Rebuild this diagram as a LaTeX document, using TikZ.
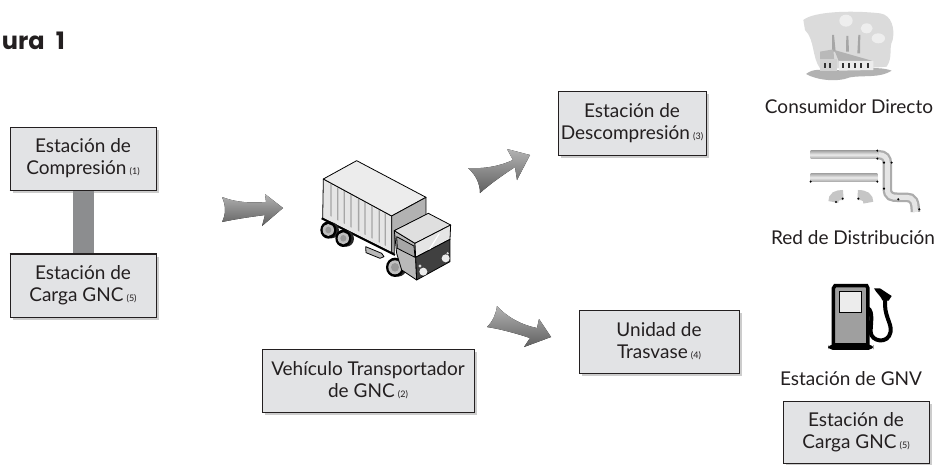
\documentclass[tikz,border=0pt]{standalone}
\usepackage{fontspec}
\setmainfont{Lato}
\newfontfamily\titlefont[WordSpace=2.2]{Poppins}
\usetikzlibrary{shadows,shadings}
\definecolor{boxfill}{HTML}{E2E3E5}
\definecolor{ink}{HTML}{231F20}
\definecolor{linkgray}{HTML}{8C8D8F}
\tikzset{
  box/.style={draw=ink,line width=1pt,fill=boxfill,align=center,text=ink,inner sep=0pt,
    font=\fontsize{19}{22}\selectfont,
    drop shadow={shadow xshift=2.5pt,shadow yshift=-2.5pt,fill=black,opacity=.2}},
  plain/.style={text=ink,inner sep=0pt,font=\fontsize{19}{22}\selectfont},
  blockarrow/.style={draw=none,top color=gray!60,middle color=gray!25,bottom color=gray!75!black},
  zoomA/.style={shift={(300,80)},x=.3333pt,y=-.3333pt},
  zoomB/.style={shift={(770,0)},x=.3333pt,y=-.3333pt},
  zoomC/.style={shift={(740,270)},x=.3333pt,y=-.3333pt},
  tk/.style={draw=black,line width=.8pt,line join=round},
}
\newcommand{\nm}[1]{\,{\fontsize{9}{10}\selectfont #1}}
\newcommand{\wheelat}[3]{%
  \fill[black!85] (#1+9,#2+1) circle[x radius=#3-1,y radius=#3];
  \fill[black] (#1,#2) circle[x radius=#3,y radius=#3+2];
  \fill[gray!50] (#1,#2) circle[x radius=#3-7,y radius=#3-6];
  \fill[gray!80] (#1,#2) circle[x radius=#3-15,y radius=#3-14];
}
\begin{document}
\begin{tikzpicture}[x=1pt,y=-1pt]
\useasboundingbox (0,0) rectangle (937,464);
\fill[white] (0,0) rectangle (937,464);
\node[anchor=base east,text=ink,inner sep=0pt,font=\fontsize{24}{28}\titlefont\bfseries] (title) at (65,49.5) {ura 1};

% boxes
\node[box,minimum width=146pt,minimum height=63pt] (comp) at (83,158.5) {Estación de\\Compresión\nm{(1)}};
\node[box,minimum width=146pt,minimum height=63pt] (carga) at (83,285.5) {Estación de\\Carga GNC\nm{(5)}};
\node[box,minimum width=148pt,minimum height=64pt] (desc) at (632,123) {Estación de\\Descompresión\nm{(3)}};
\node[box,minimum width=212pt,minimum height=63pt] (veh) at (368,380.5) {Vehículo Transportador\\de GNC\nm{(2)}};
\node[box,minimum width=160pt,minimum height=63pt] (tras) at (659,341.5) {Unidad de\\Trasvase\nm{(4)}};
\node[box,minimum width=146pt,minimum height=62pt] (carga2) at (856,432) {Estación de\\Carga GNC\nm{(5)}};
\draw[line width=21pt,color=linkgray] (comp.south) -- (carga.north);
\draw[draw=ink,line width=1pt] (comp.south west) -- (comp.south east) (carga.north west) -- (carga.north east);

% labels
\node[plain] (l1) at (849,107) {Consumidor Directo};
\node[plain] (l2) at (853,238) {Red de Distribución};
\node[plain] (l3) at (851,379) {Estación de GNV};

% arrows
\fill[blockarrow] (222,197) .. controls (238,203) and (252,203) .. (266,202) -- (265,194) -- (283,208) -- (262,226) -- (265,215) .. controls (250,217) and (236,219) .. (222,222) .. controls (226,214) and (226,206) .. (222,197) -- cycle;
\fill[blockarrow] (468,168) .. controls (485,169) and (500,166) .. (513,160) -- (507,149) -- (530,155) -- (517,180) -- (515,167) .. controls (503,175) and (490,184) .. (480,193) .. controls (480,184) and (476,175) .. (468,168) -- cycle;
\fill[blockarrow] (497,306) .. controls (508,318) and (522,325) .. (537,328) -- (539,319) -- (551,337) -- (524,347) -- (530,338) .. controls (515,333) and (500,329) .. (487,327) .. controls (493,321) and (496,314) .. (497,306) -- cycle;

% truck
\begin{scope}[zoomA]
  \fill[gray!20,tk] (70,297) -- (275,408) -- (275,518) -- (68,415) -- cycle;
  \foreach \a/\b in {95/310,115/322,135/332,155/343,178/355,197/365,218/376,240/388,258/398}{
    \fill[gray!70] (\a-4,\b) -- (\a,\b+2) -- (\a,\b+100) -- (\a-4,\b+98) -- cycle;
  }
  \fill[gray!15,tk] (70,297) -- (170,242) -- (378,352) -- (275,408) -- cycle;
  \fill[gray!60,tk] (275,408) -- (378,352) -- (378,405) -- (283,452) -- (283,520) -- (275,518) -- cycle;
  \draw[line width=2pt] (65,415) -- (285,525);
  \wheelat{85}{450}{24}
  \wheelat{130}{475}{24}
  \fill[gray!55,tk] (197,500) -- (245,520) -- (252,530) -- (240,535) -- (198,518) -- cycle;
  \wheelat{285}{562}{27}
  \fill[gray!55,tk] (283,452) -- (345,490) -- (350,600) -- (305,570) -- (290,520) -- cycle;
  \fill[gray!25,tk] (283,452) -- (385,400) -- (452,435) -- (345,490) -- cycle;
  \fill[gray!20,tk] (345,490) -- (452,435) -- (450,478) -- (347,532) -- cycle;
  \fill[black!75,tk] (347,532) -- (450,478) -- (450,545) -- (350,600) -- cycle;
  \fill[gray!70,tk] (290,470) -- (342,498) -- (345,532) -- (292,505) -- cycle;
  \fill[white] (385,510) -- (415,462) -- (420,460) -- (392,507) -- cycle;
  \fill[gray!15] (370,575) circle[radius=12];
  \fill[gray!15] (437,535) circle[radius=12];
  \fill[gray!30] (360,558) circle[radius=5];
  \fill[gray!30] (443,520) circle[radius=4];
\end{scope}

% factory
\begin{scope}[zoomB]
  \fill[gray!28] (100,60) .. controls (130,35) and (240,30) .. (330,40) .. controls (365,45) and (375,85) .. (368,120) .. controls (355,145) and (370,170) .. (350,200) .. controls (300,205) and (200,205) .. (150,205) .. controls (125,170) and (135,120) .. (105,90) -- cycle;
  \fill[gray!60] (108,222) .. controls (130,205) and (150,210) .. (190,210) .. controls (250,212) and (320,195) .. (365,212) .. controls (330,235) and (280,225) .. (240,232) .. controls (200,248) and (140,240) .. (108,222) -- cycle;
  \fill[white,opacity=.55] (228,62) circle[x radius=20,y radius=18];
  \fill[white,opacity=.55] (290,85) circle[x radius=18,y radius=15];
  \fill[white,opacity=.55] (325,115) circle[x radius=20,y radius=15];
  \fill[gray!70] (186,105) -- (192,105) -- (197,155) -- (186,155) -- cycle;
  \fill[gray!70] (229,108) -- (235,108) -- (237,155) -- (228,155) -- cycle;
  \fill[gray!70] (265,105) -- (271,105) -- (270,160) -- (262,160) -- cycle;
  \fill[gray!55] (150,155) -- (190,148) -- (195,210) -- (150,212) -- cycle;
  \fill[gray!35] (150,178) -- (200,178) -- (200,212) -- (150,212) -- cycle;
  \fill[gray!60] (193,150) -- (305,182) -- (305,185) -- (207,185) -- cycle;
  \fill[gray!15] (207,183) -- (310,183) -- (310,210) -- (207,212) -- cycle;
  \foreach \x in {165,180,218,236,255,273,293}{\fill[black!80] (\x-3,190) rectangle (\x+3,204);}
\end{scope}

% pipes
\begin{scope}[zoomB]
  \shade[top color=gray!70,bottom color=gray!70,middle color=gray!15] (122,452) rectangle (325,476);
  \shade[top color=gray!70,bottom color=gray!70,middle color=gray!15] (122,520) rectangle (322,545);
  \draw[line width=9.5pt,gray!65] (325,464) .. controls (345,464) and (352,475) .. (352,490) -- (352,565) .. controls (352,590) and (365,592) .. (385,592) -- (410,592) .. controls (430,592) and (436,605) .. (436,636);
  \draw[line width=5pt,gray!20] (325,464) .. controls (345,464) and (352,475) .. (352,490) -- (352,565) .. controls (352,590) and (365,592) .. (385,592) -- (410,592) .. controls (430,592) and (436,605) .. (436,636);
  \draw[line width=10pt,gray!45] (190,606) .. controls (190,590) and (200,585) .. (220,585);
  \draw[line width=10pt,gray!45] (263,585) .. controls (285,585) and (295,592) .. (295,608);
  \foreach \x/\y in {322/452,322/476,342/488,365/488,342/566,385/598,448/628,122/545,322/545,218/596,265/596,198/606}{\fill[black] (\x,\y) circle[radius=3.5];}
\end{scope}

% pump
\begin{scope}[zoomC]
  \fill[gray!75,draw=black,line width=3.5pt] (285,47) -- (380,47) -- (384,55) -- (384,225) -- (280,225) -- (280,55) -- cycle;
  \fill[white!85!gray,draw=black,line width=1.4pt] (299,65) -- (365,65) -- (365,128) -- (299,128) -- cycle;
  \fill[black,rounded corners=5pt] (264,223) rectangle (400,240);
  \draw[line width=4pt,black] (384,115) .. controls (400,125) and (392,160) .. (392,185) .. controls (392,215) and (445,225) .. (452,185) .. controls (456,160) and (430,135) .. (436,90);
  \fill[black] (402,55) -- (420,55) -- (455,78) -- (446,92) -- (428,92) .. controls (420,75) and (410,70) .. (402,55) -- cycle;
\end{scope}
\end{tikzpicture}
\end{document}
